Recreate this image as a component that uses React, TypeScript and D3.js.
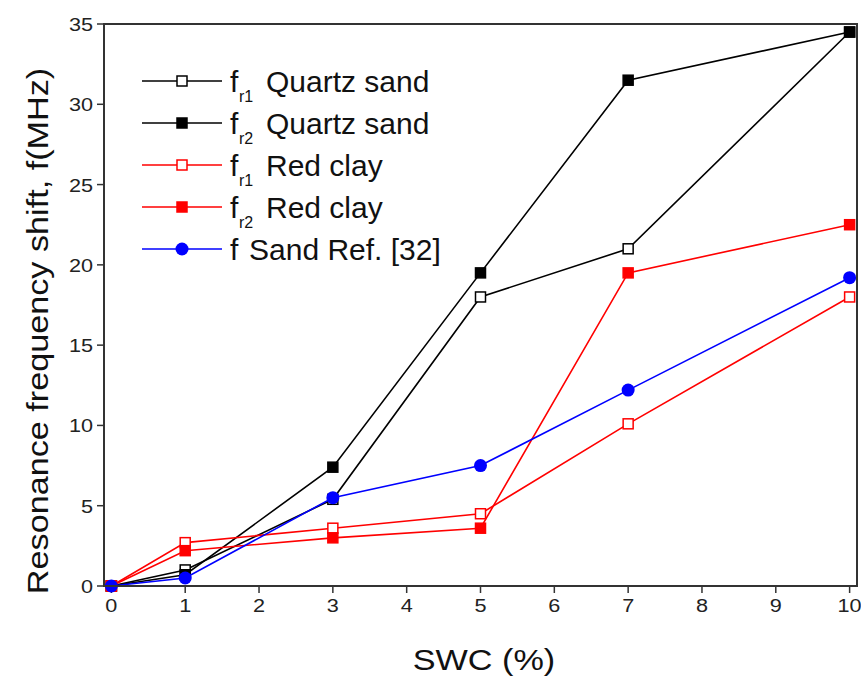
import React from 'react';
import * as d3 from 'd3';

const swc = [0, 1, 3, 5, 7, 10];
const quartzFr1 = [0, 1.0, 5.4, 18.0, 21.0, 34.5];
const quartzFr2 = [0, 0.7, 7.4, 19.5, 31.5, 34.5];
const clayFr1 = [0, 2.7, 3.6, 4.5, 10.1, 18.0];
const clayFr2 = [0, 2.2, 3.0, 3.6, 19.5, 22.5];
const sandRef = [0, 0.5, 5.5, 7.5, 12.2, 19.2];

const xTicks = [0, 1, 2, 3, 4, 5, 6, 7, 8, 9, 10];
const yTicks = [0, 5, 10, 15, 20, 25, 30, 35];

const series = [
  { sub: 'r1', label: 'Quartz sand', values: quartzFr1, color: '#000', marker: 'square', filled: false },
  { sub: 'r2', label: 'Quartz sand', values: quartzFr2, color: '#000', marker: 'square', filled: true },
  { sub: 'r1', label: 'Red clay', values: clayFr1, color: '#ff0000', marker: 'square', filled: false },
  { sub: 'r2', label: 'Red clay', values: clayFr2, color: '#ff0000', marker: 'square', filled: true },
  { sub: '', label: 'Sand Ref. [32]', values: sandRef, color: '#0000ff', marker: 'circle', filled: true },
];

const W = 861;
const H = 679;
const left = 104;
const right = 857;
const top = 24;
const bottom = 586;
const SX = 1.14; // axis text in the original is a bit wider than Arial

const Marker = ({ x, y, s }) => {
  if (s.marker === 'circle') {
    return <circle cx={x} cy={y} r={6.5} fill={s.color} />;
  }
  return (
    <rect x={x - 5} y={y - 5} width={10} height={10}
      fill={s.filled ? s.color : '#fff'} stroke={s.color} strokeWidth={1.5} />
  );
};

export default function App() {
  const x = d3.scaleLinear().domain([-0.1, 10.1]).range([left, right]);
  const y = d3.scaleLinear().domain([0, 35]).range([bottom, top]);
  const line = d3.line<number>().x((_, i) => x(swc[i])).y(d => y(d));
  const font = '"Liberation Sans", Arial, sans-serif';

  return (
    <svg width={W} height={H} style={{ position: 'absolute', left: 0, top: 0 }} fontFamily={font}>
      <rect width={W} height={H} fill="#fff" />

      {/* ticks */}
      {xTicks.map(t => (
        <g key={'x' + t}>
          <line x1={x(t)} x2={x(t)} y1={bottom} y2={bottom + 7} stroke="#333" strokeWidth={1.5} />
          <text transform={`translate(${x(t)},${bottom + 26}) scale(${SX},1)`} textAnchor="middle" fontSize={19} fill="#222">{t}</text>
        </g>
      ))}
      {yTicks.map(t => (
        <g key={'y' + t}>
          <line x1={left - 7} x2={left} y1={y(t)} y2={y(t)} stroke="#333" strokeWidth={1.5} />
          <text transform={`translate(${left - 11},${y(t) + 7}) scale(${SX},1)`} textAnchor="end" fontSize={19} fill="#222">{t}</text>
        </g>
      ))}

      {/* data */}
      {series.map((s, k) => (
        <g key={k}>
          <path d={line(s.values) || ''} fill="none" stroke={s.color} strokeWidth={1.6} />
          {s.values.map((v, i) => <Marker key={i} x={x(swc[i])} y={y(v)} s={s} />)}
        </g>
      ))}

      {/* frame */}
      <rect x={left} y={top} width={right - left} height={bottom - top} fill="none" stroke="#333" strokeWidth={2} />

      {/* legend */}
      {series.map((s, k) => {
        const ly = 81 + k * 42;
        return (
          <g key={'l' + k}>
            <line x1={142} x2={222} y1={ly} y2={ly} stroke={s.color} strokeWidth={1.6} />
            <Marker x={182} y={ly} s={s} />
            <g transform={`translate(230,${ly + 11})`}>
              <text x={0} y={0} fontSize={30} fill="#111">f</text>
              {s.sub ? <text x={9} y={10} fontSize={16} fill="#111">{s.sub}</text> : null}
              <text x={s.sub ? 36 : 19} y={0} fontSize={30} fill="#111">{s.label}</text>
            </g>
          </g>
        );
      })}

      {/* axis titles */}
      <text transform={`translate(484,670) scale(${SX},1)`} textAnchor="middle" fontSize={30} fill="#111">SWC (%)</text>
      <text transform={`translate(48, ${(top + bottom) / 2 + 26}) rotate(-90) scale(${SX},1)`} textAnchor="middle" fontSize={30} fill="#111">
        Resonance frequency shift, f(MHz)
      </text>
    </svg>
  );
}
